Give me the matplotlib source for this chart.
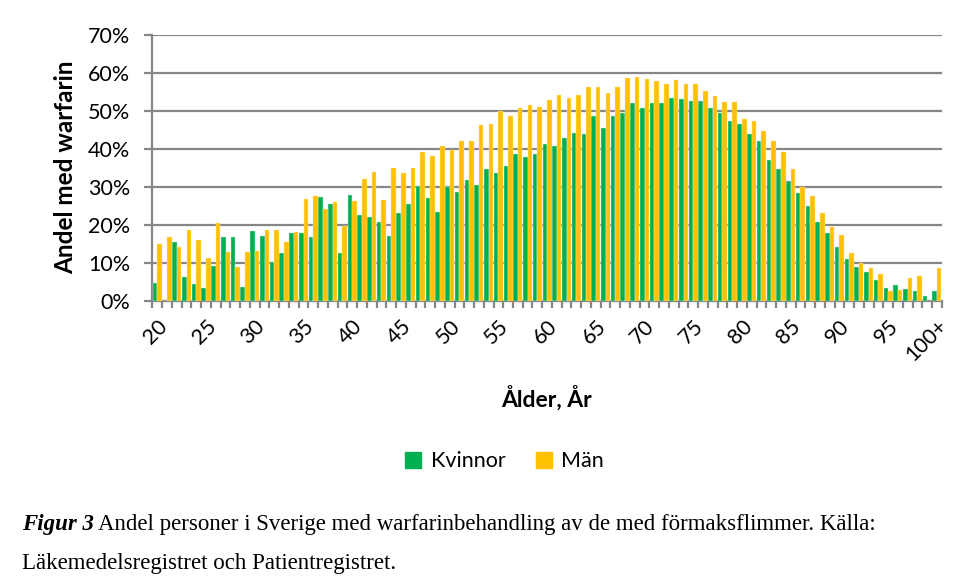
import numpy as np
import matplotlib
matplotlib.use("Agg")
from matplotlib import pyplot as plt
from matplotlib.patches import Patch

# ages 20..99 and 100+
ages = [str(a) for a in range(20, 100)] + ["100+"]

kvinnor = [4.7, 0.0, 15.4, 6.2, 4.3, 3.4, 9.0, 16.7, 16.7, 3.7,
           18.2, 17.0, 10.1, 12.4, 17.9, 17.9, 16.8, 27.2, 25.4, 12.4,
           27.7, 22.4, 21.9, 20.7, 17.0, 23.0, 25.4, 30.2, 27.1, 23.2,
           30.0, 28.5, 31.8, 30.5, 34.6, 33.7, 35.5, 38.7, 37.7, 38.7,
           41.2, 40.8, 42.8, 44.1, 43.9, 48.6, 45.5, 48.6, 49.4, 52.1,
           50.8, 52.0, 52.0, 53.3, 53.0, 52.6, 52.5, 50.7, 49.3, 47.3,
           46.6, 43.8, 41.9, 37.1, 34.5, 31.5, 28.3, 25.0, 20.7, 17.8,
           14.0, 11.0, 8.8, 7.5, 5.4, 3.3, 4.1, 3.1, 2.5, 1.1,
           2.5]

man = [15.0, 16.7, 14.0, 18.7, 15.9, 11.2, 20.4, 12.8, 8.8, 12.7,
       13.1, 18.5, 18.5, 15.3, 18.1, 26.8, 27.6, 24.1, 26.0, 19.6,
       26.3, 32.0, 33.9, 26.6, 35.0, 33.7, 34.9, 39.2, 38.0, 40.8,
       39.7, 42.0, 42.0, 46.2, 46.5, 49.9, 48.7, 50.7, 51.4, 51.0,
       52.7, 54.1, 53.4, 54.2, 56.2, 56.2, 54.6, 56.3, 58.7, 58.8,
       58.2, 57.7, 56.9, 58.1, 56.9, 56.9, 55.1, 53.8, 52.2, 52.2,
       47.9, 47.2, 44.7, 42.1, 39.0, 34.5, 29.9, 27.5, 23.1, 19.3,
       17.2, 12.4, 9.8, 8.6, 7.0, 2.6, 2.9, 6.0, 6.4, 0.0,
       8.5]

yticks = [0, 10, 20, 30, 40, 50, 60, 70]

green = "#00B050"
orange = "#FFC000"
grid_c = "#868686"
font = "Lato"

fig = plt.figure(figsize=(9.59, 5.86), dpi=100)
ax = fig.add_axes([0.159, 0.487, 0.823, 0.454])

x = np.arange(len(ages))
w = 0.47
ax.bar(x - w / 2, kvinnor, width=w, color=green, edgecolor="#c8ecd6", linewidth=0.3, zorder=3)
ax.bar(x + w / 2, man, width=w, color=orange, edgecolor="#ffe9b0", linewidth=0.3, zorder=3)

ax.set_xlim(-0.5, len(ages) - 0.5)
ax.set_ylim(0, 70)
ax.set_yticks(yticks)
ax.set_yticklabels([f"{v}%" for v in yticks], fontsize=15.5, family=font)
ax.yaxis.grid(True, color=grid_c, linewidth=1.6, zorder=0)

# tick marks at category boundaries, labels every 5 years
ax.set_xticks(np.arange(-0.5, len(ages), 1.0), minor=True)
lab_pos = list(range(0, len(ages), 5))
ax.set_xticks(lab_pos)
ax.set_xticklabels([ages[i] for i in lab_pos], rotation=45, ha="right", va="top",
                   rotation_mode="anchor", fontsize=15.5, family=font)
ax.tick_params(axis="x", which="major", length=0, pad=11)
ax.tick_params(axis="x", which="minor", length=5, width=1.6, color=grid_c)
ax.tick_params(axis="y", length=6, width=1.6, color=grid_c, pad=10)

for s in ["top", "right"]:
    ax.spines[s].set_visible(False)
for s in ["left", "bottom"]:
    ax.spines[s].set_color(grid_c)
    ax.spines[s].set_linewidth(1.6)

ax.set_ylabel("Andel med warfarin", fontsize=17.5, fontweight="bold", family=font, labelpad=8)
fig.text(0.570, 0.321, "Ålder, År", ha="center", va="center", fontsize=16.5,
         fontweight="bold", family=font)

handles = [Patch(color=green, label="Kvinnor"), Patch(color=orange, label="Män")]
fig.legend(handles=handles, loc="center", bbox_to_anchor=(0.526, 0.213), ncol=2,
           frameon=False, prop={"family": font, "size": 15.5}, handlelength=0.75,
           handleheight=0.75, handletextpad=0.45, columnspacing=1.4)

# caption
serif = "Liberation Serif"
t1 = fig.text(0.023, 0.105, "Figur 3", fontsize=16.5, family=serif,
              fontweight="bold", style="italic", va="center")
fig.canvas.draw()
bb = t1.get_window_extent()
x_after = (bb.x1 + 4) / fig.bbox.width
fig.text(x_after, 0.105,
         "Andel personer i Sverige med warfarinbehandling av de med förmaksflimmer. Källa:",
         fontsize=16.5, family=serif, va="center")
fig.text(0.023, 0.039, "Läkemedelsregistret och Patientregistret.", fontsize=16.5,
         family=serif, va="center")

fig.savefig("out.png", dpi=100)
